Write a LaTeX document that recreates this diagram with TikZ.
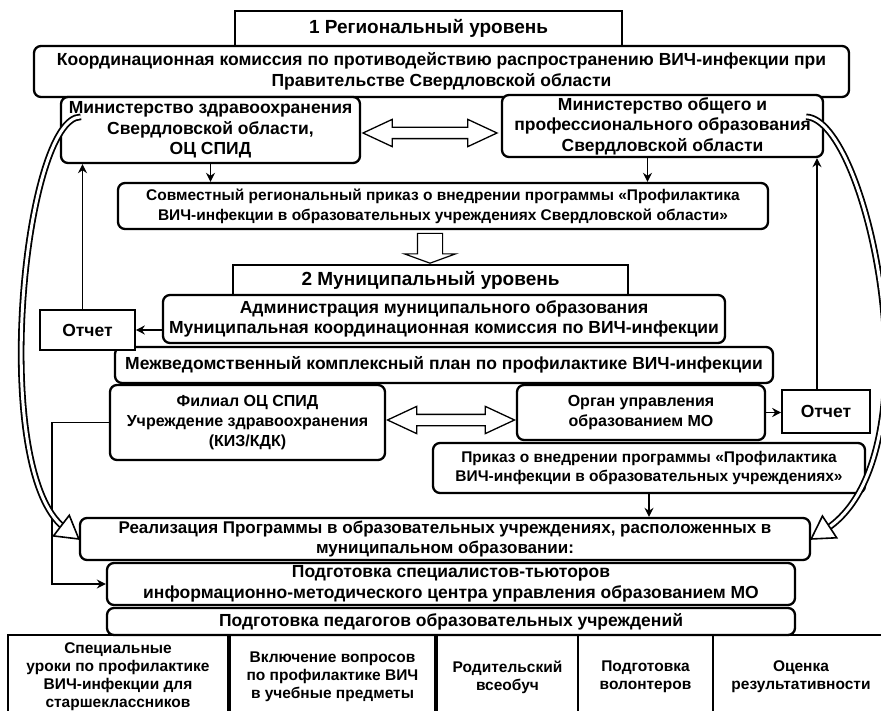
\documentclass[tikz,border=0pt]{standalone}
\usepackage{fontspec}
\setmainfont{Liberation Sans}
\usetikzlibrary{positioning, arrows.meta, shapes.arrows, decorations.markings}

\begin{document}
\begin{tikzpicture}[x=1pt, y=-1pt, >=Stealth,
    box/.style={draw, line width=2.3pt, rounded corners=7pt, fill=white, align=center, inner sep=0pt,
      font=\bfseries\fontsize{17.5}{20.5}\selectfont},
    smalltxt/.style={font=\bfseries\fontsize{16}{20}\selectfont},
    hdr/.style={draw, line width=1.1pt, fill=white, align=center, inner sep=0pt,
      font=\bfseries\fontsize{19}{22}\selectfont},
    otch/.style={box, rounded corners=0pt, line width=1.6pt},
    cell/.style={draw, line width=1.3pt, align=center, inner sep=0pt, minimum height=84,
      font=\bfseries\fontsize{15.5}{18}\selectfont},
    conn/.style={-{Stealth[length=9pt, width=9pt]}, line width=1.4pt},
    dblarr/.style={double arrow, draw, line width=1.3pt, fill=white, inner sep=5pt,
      minimum width=26pt, double arrow head extend=8pt, double arrow tip angle=50},
    hollowcurve/.style={draw, double, double distance=3pt, line width=1.8pt, shorten >=18pt},
    headmark/.style={decorate, decoration={markings, mark=at position 0.9999 with
      {\draw[line width=1.6pt, fill=white, line join=miter] (0pt,0pt) -- (-22pt,13pt) -- (-22pt,-13pt) -- cycle;}}}]
  \useasboundingbox (0,0) rectangle (881,711);
  \clip (0,0) rectangle (881,711);

  % 1 regional level
  \node[hdr, minimum width=387, minimum height=35] (hdrone) at (428.5,28.5) {1 Региональный уровень};
  \node[box, minimum width=815, minimum height=51] (coord) at (441.5,71.5)
    {Координационная комиссия по противодействию распространению ВИЧ-инфекции при\\ Правительстве Свердловской области};
  \node[box, minimum width=299, minimum height=66] (mzdrav) at (210.5,130)
    {Министерство здравоохранения\\ Свердловской области,\\ ОЦ СПИД};
  \node[box, minimum width=321, minimum height=62] (mobr) at (662.5,126)
    {Министерство общего и\\ профессионального образования\\ Свердловской области};
  \node[dblarr, minimum height=134] (dblone) at (430,133) {};
  \node[box, minimum width=650, minimum height=46, font=\bfseries\fontsize{15.5}{20}\selectfont] (sovm) at (443,206)
    {Совместный региональный приказ о внедрении программы «Профилактика\\ ВИЧ-инфекции в образовательных учреждениях Свердловской области»};
  \draw[conn] (mzdrav.south) -- (mzdrav.south |- sovm.north);
  \draw[conn] ([xshift=-15pt]mobr.south) -- ([xshift=-15pt]mobr.south |- sovm.north);
  \node[single arrow, draw, fill=white, line width=1.2pt, inner sep=12pt, rotate=-90,
    minimum height=23pt, minimum width=50pt, single arrow head extend=13pt,
    single arrow tip angle=140] (downarr) at (430,246) {};

  % 2 municipal level
  \node[hdr, minimum width=395, minimum height=30] (hdrtwo) at (430.5,280) {2 Муниципальный уровень};
  \node[box, minimum width=562, minimum height=48] (admin) at (444,319)
    {Администрация муниципального образования\\ Муниципальная координационная комиссия по ВИЧ-инфекции};
  \node[box, minimum width=658, minimum height=36] (mezhv) at (444,365)
    {Межведомственный комплексный план по профилактике ВИЧ-инфекции};
  \node[otch, minimum width=95, minimum height=40] (lotch) at (87.5,330) {Отчет};
  \draw[conn] (lotch.east -| admin.west) -- (lotch.east);
  \draw[conn] ([xshift=-5pt]lotch.north) -- ([xshift=-5pt]lotch.north |- mzdrav.south);
  \node[box, smalltxt, minimum width=275, minimum height=75] (filial) at (247.5,422.5)
    {Филиал ОЦ СПИД\\ Учреждение здравоохранения\\ (КИЗ/КДК)};
  \node[box, smalltxt, minimum width=248, minimum height=55] (organ) at (641,412.5)
    {Орган управления\\ образованием МО};
  \node[dblarr, minimum height=127] (dbltwo) at (451,420) {};
  \node[otch, minimum width=88, minimum height=43] (rotch) at (826,411.5) {Отчет};
  \draw[conn] (organ.east) -- (organ.east -| rotch.west);
  \draw[conn] ([xshift=-9pt]rotch.north) -- ([xshift=-9pt]rotch.north |- mobr.south);
  \node[box, minimum width=432, minimum height=50, font=\bfseries\fontsize{15.5}{19}\selectfont] (prikaz) at (649,468)
    {Приказ о внедрении программы «Профилактика\\ ВИЧ-инфекции в образовательных учреждениях»};

  % realisation
  \node[box, minimum width=730, minimum height=42, font=\bfseries\fontsize{17}{20}\selectfont] (real) at (445,539)
    {Реализация Программы в образовательных учреждениях, расположенных в\\ муниципальном образовании:};
  \draw[conn] (prikaz.south) -- (prikaz.south |- real.north);
  \node[box, minimum width=688, minimum height=42] (tutors) at (451,584)
    {Подготовка специалистов-тьюторов\\ информационно-методического центра управления образованием МО};
  \node[box, minimum width=688, minimum height=27] (teach) at (451,621.5)
    {Подготовка педагогов образовательных учреждений};
  \draw[conn] (filial.west) -- ++(-57,0) |- (tutors.west);

  % bottom row
  \node[cell, minimum width=220] (cone) at (118,677)
    {Специальные\\ уроки по профилактике\\ ВИЧ-инфекции для\\ старшеклассников};
  \node[cell, line width=2.6pt, minimum width=205] (ctwo) at (332.5,677)
    {Включение вопросов\\ по профилактике ВИЧ\\ в учебные предметы};
  \node[cell, minimum width=141] (cthree) at (507.5,677) {Родительский\\ всеобуч};
  \node[cell, minimum width=135] (cfour) at (645.5,677) {Подготовка\\ волонтеров};
  \node[cell, minimum width=176] (cfive) at (801,677) {Оценка\\ результативности};

  % hollow curved arrows
  \draw[hollowcurve] ([shift={(21pt,-21pt)}]mzdrav.north west) .. controls +(-57,0) and +(-90,-69) .. (real.west);
  \path[headmark] ([shift={(21pt,-21pt)}]mzdrav.north west) .. controls +(-57,0) and +(-90,-69) .. (real.west);
  \draw[hollowcurve] ([shift={(-18pt,-23pt)}]mobr.north east) .. controls +(62,2) and +(128,-84) .. (real.east);
  \path[headmark] ([shift={(-18pt,-23pt)}]mobr.north east) .. controls +(62,2) and +(128,-84) .. (real.east);
\end{tikzpicture}
\end{document}
